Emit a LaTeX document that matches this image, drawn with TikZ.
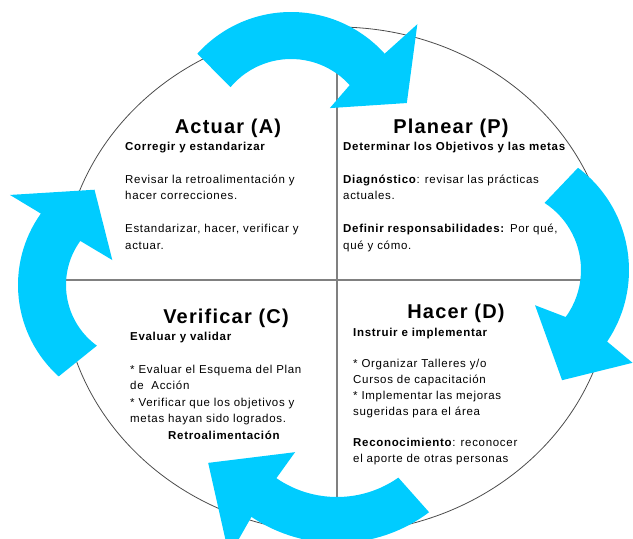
\documentclass[tikz,border=0pt]{standalone}
\usepackage{fontspec}
\setmainfont{Liberation Sans}[LetterSpace=6]
\usetikzlibrary{shapes.geometric}
\definecolor{ciclo}{RGB}{0,204,255}
\begin{document}
\begin{tikzpicture}[x=1pt,y=1pt,
  flecha/.style={fill=ciclo},
  divisor/.style={draw=black!50, line width=1.3pt},
  titulo/.style={font=\fontsize{20}{24}\selectfont\bfseries, inner sep=0pt, anchor=base},
  texto/.style={font=\fontsize{11.5}{16.5}\selectfont, align=left, inner sep=0pt, anchor=base west}]
\useasboundingbox (-337,-259) rectangle (296,280);
\clip (-337,-259) rectangle (296,280);
% circulo y cuadrantes
\node (circulo) [ellipse, draw=black!70, line width=0.8pt, inner sep=0pt,
  minimum width=550pt, minimum height=506pt] at (0,0) {};
\draw [divisor] (circulo.north) -- (circulo.south);
\draw [divisor] (circulo.west) -- (circulo.east);
% flechas del ciclo
\begin{scope}[shift={(-46,142)}]
\fill [flecha] (140:79) arc[start angle=140, end angle=42, radius=79] -- (37.6:49) -- (16.8:121)
  -- (42:170) -- (42:126) arc[start angle=42, end angle=138, radius=126] -- cycle;
\end{scope}
\begin{scope}[shift={(164,10)}]
\fill [flecha] (57:80) arc[start angle=57, end angle=-36, radius=80] -- (-46:49) -- (-61:126)
  -- (-35.2:161) -- (-34:128) arc[start angle=-34, end angle=53, radius=128] -- cycle;
\end{scope}
\begin{scope}[shift={(0,-110)}]
\fill [flecha] (305:107) arc[start angle=305, end angle=235.5, radius=107] -- (236:75) -- (209.5:148)
  -- (237:198) -- (236:153) arc[start angle=236, end angle=307, radius=153] -- cycle;
\end{scope}
\begin{scope}[shift={(-196,-5)}]
\fill [flecha] (234:75) arc[start angle=234, end angle=144, radius=75] -- (139:38) -- (116:106)
  -- (145.5:159) -- (144.5:123) arc[start angle=144.5, end angle=228, radius=123] -- cycle;
\end{scope}
% textos (base = ultima linea)
\node (actuar) [titulo] at (-109,147) {Actuar (A)};
\node (planear) [titulo] at (114,147) {Planear (P)};
\node (verificar) [titulo] at (-111,-43) {Verificar (C)};
\node (hacer) [titulo] at (119,-38) {Hacer (D)};
\node (textoA) [texto] at (-212,31) {
\textbf{Corregir y estandarizar}\\[16.5pt]
Revisar la retroalimentación y\\
hacer correcciones.\\[16.5pt]
Estandarizar, hacer, verificar y\\
actuar.};
\node (textoP) [texto] at (6,31) {
\textbf{Determinar los Objetivos y las metas}\\[16.5pt]
\textbf{Diagnóstico}: revisar las prácticas\\
actuales.\\[16.5pt]
\textbf{Definir responsabilidades:} Por qué,\\
qué y cómo.};
\node (textoC) [texto] at (-207,-159) {
\textbf{Evaluar y validar}\\[16.5pt]
* Evaluar el Esquema del Plan\\
de\ \ Acción\\
* Verificar que los objetivos y\\
metas hayan sido logrados.\\
\hspace*{38pt}\textbf{Retroalimentación}};
\node (textoD) [texto, font=\fontsize{11.5}{15.8}\selectfont] at (16,-182.5) {
\textbf{Instruir e implementar}\\[15.8pt]
* Organizar Talleres y/o\\
Cursos de capacitación\\
* Implementar las mejoras\\
sugeridas para el área\\[15.8pt]
\textbf{Reconocimiento}: reconocer\\
el aporte de otras personas};
\end{tikzpicture}
\end{document}
